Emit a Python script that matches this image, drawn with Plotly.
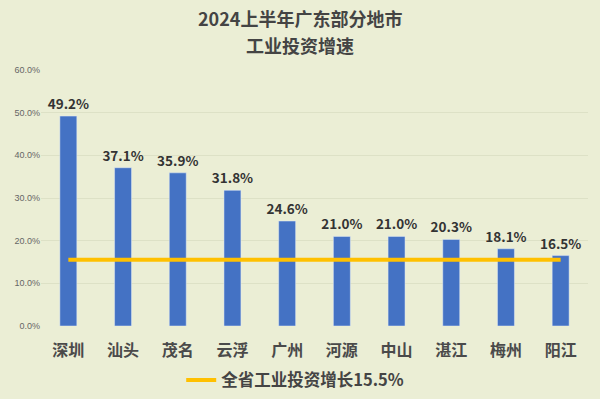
import plotly.graph_objects as go

cities = ["深圳", "汕头", "茂名", "云浮", "广州", "河源", "中山", "湛江", "梅州", "阳江"]
growth = [49.2, 37.1, 35.9, 31.8, 24.6, 21.0, 21.0, 20.3, 18.1, 16.5]
province_avg = [15.5] * len(cities)
y_ticks = [0, 10, 20, 30, 40, 50, 60]
y_tick_text = [f"{v:.1f}%" for v in y_ticks]
title_lines = ["2024上半年广东部分地市", "工业投资增速"]

FONT = "Noto Sans CJK SC"
BG = "#ebeed5"

fig = go.Figure()
fig.add_trace(go.Bar(
    x=cities, y=growth, marker_color="#4472c4", showlegend=False,
    texttemplate="%{y:.1f}%", textposition="outside", cliponaxis=False,
    constraintext="none",
    textfont=dict(family=FONT, size=13.5, color="#333333", weight="bold"),
))
fig.add_trace(go.Scatter(
    x=cities, y=province_avg, mode="lines", name="全省工业投资增长15.5%",
    line=dict(color="#ffc000", width=4),
))

for txt, yy in zip(title_lines, [1.203, 1.098]):
    fig.add_annotation(text=f"<b>{txt}</b>", xref="paper", yref="paper", x=0.474, y=yy,
                       xanchor="center", yanchor="middle", showarrow=False,
                       font=dict(family=FONT, size=18, color="#444444"))

fig.update_layout(
    width=600, height=399,
    paper_bgcolor=BG, plot_bgcolor=BG,
    margin=dict(l=41, r=12, t=70, b=73, autoexpand=False),
    bargap=0.69,
    font=dict(family=FONT),
    legend=dict(orientation="h", xref="container", yref="container",
                x=0.492, xanchor="center", y=0.047, yanchor="middle",
                bgcolor="rgba(0,0,0,0)",
                font=dict(family=FONT, size=16.5, color="#444444", weight="bold")),
    xaxis=dict(showgrid=False, showline=False, ticks="", ticklabelstandoff=13, automargin=False,
               tickfont=dict(family=FONT, size=16, color="#4a4a4a", weight="bold")),
    yaxis=dict(range=[0, 60], tickvals=y_ticks, ticktext=y_tick_text, automargin=False,
               showgrid=True, gridcolor="#dde1c6", gridwidth=1, zeroline=False,
               tickfont=dict(family="Liberation Sans", size=9, color="#666666")),
)

fig.write_html("out.html", config={"displayModeBar": False},
               post_script="document.body.style.margin='0px';document.body.style.background='%s';" % BG)
